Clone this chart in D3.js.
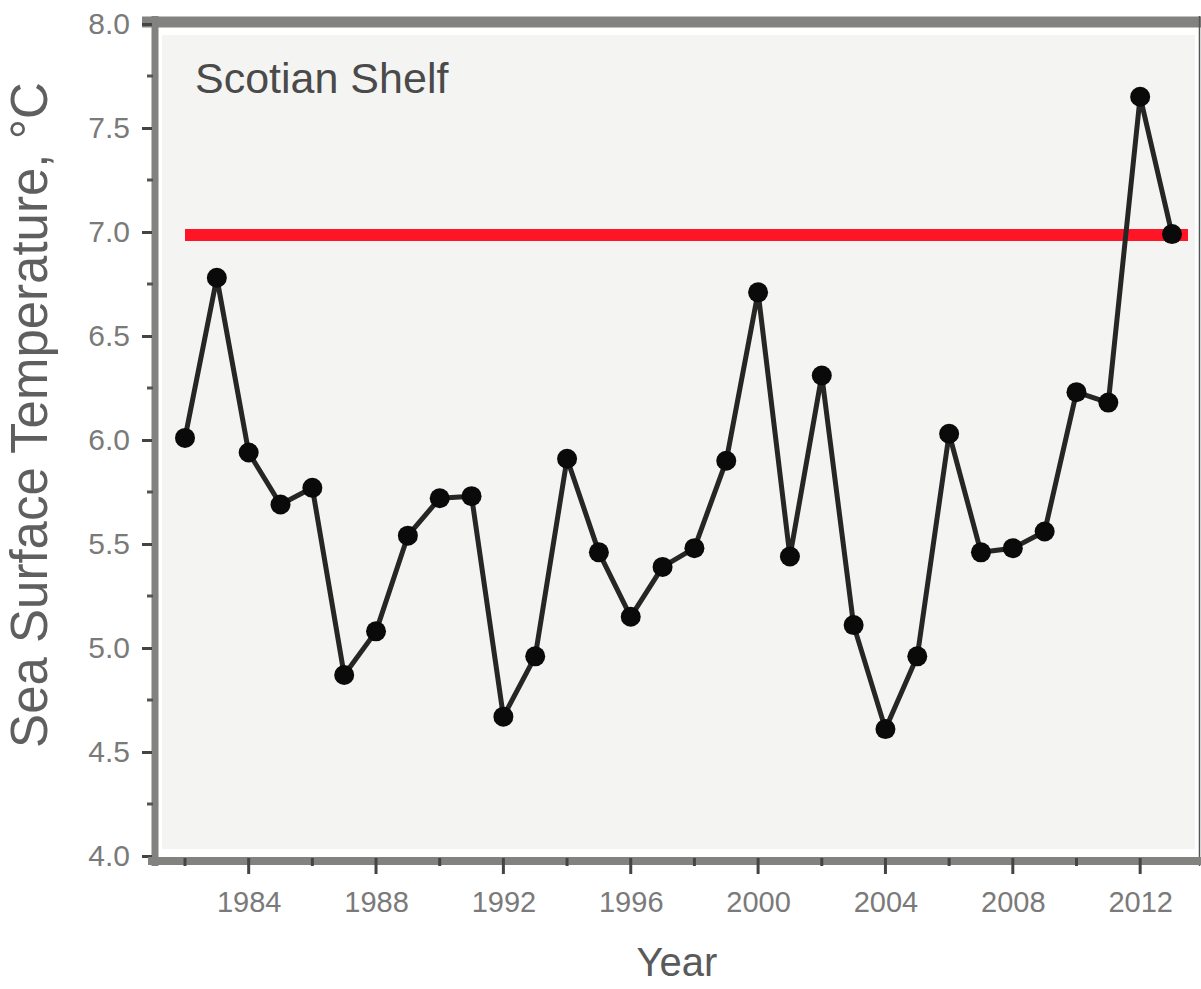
<!DOCTYPE html>
<html>
<head>
<meta charset="utf-8">
<script src="https://cdn.jsdelivr.net/npm/d3@7"></script>
<style>
  html, body { margin: 0; padding: 0; background: #ffffff; }
  svg { display: block; font-family: "Liberation Sans", Arial, sans-serif; }
</style>
</head>
<body>
<svg id="chart" width="1201" height="989"></svg>
<script>
// Annual mean sea surface temperature, Scotian Shelf
const years = d3.range(1982, 2014);
const sst = [6.01, 6.78, 5.94, 5.69, 5.77, 4.87, 5.08, 5.54, 5.72, 5.73,
             4.67, 4.96, 5.91, 5.46, 5.15, 5.39, 5.48, 5.90, 6.71, 5.44,
             6.31, 5.11, 4.61, 4.96, 6.03, 5.46, 5.48, 5.56, 6.23, 6.18,
             7.65, 6.99];
const threshold = 7.0;
const yTicks = [4.0, 4.5, 5.0, 5.5, 6.0, 6.5, 7.0, 7.5, 8.0];
const yMinorTicks = [4.25, 4.75, 5.25, 5.75, 6.25, 6.75, 7.25, 7.75];
const xTicks = d3.range(1982, 2013, 2);
const xLabels = [1984, 1988, 1992, 1996, 2000, 2004, 2008, 2012];
const regionName = "Scotian Shelf";

const svg = d3.select("#chart");

const x = d3.scaleLinear().domain([1982, 2013]).range([185, 1172]);
const y = d3.scaleLinear().domain([4, 8]).range([856, 24]);

const axisGrey = "#828280";
const labelGrey = "#7a7a7a";

// plot panel background
svg.append("rect")
  .attr("x", 162).attr("y", 35)
  .attr("width", 1033).attr("height", 814)
  .attr("fill", "#f4f5f2");

// top frame line
svg.append("line")
  .attr("x1", 142).attr("x2", 1201)
  .attr("y1", y(8) - 2).attr("y2", y(8) - 2)
  .attr("stroke", axisGrey).attr("stroke-width", 11);

// right frame edge
svg.append("line")
  .attr("x1", 1199.5).attr("x2", 1199.5)
  .attr("y1", 16).attr("y2", 866)
  .attr("stroke", "#555").attr("stroke-width", 1.5);

// y axis
const yAxis = d3.axisLeft(y)
  .tickValues(yTicks)
  .tickFormat(d3.format(".1f"))
  .tickSize(10)
  .tickPadding(12);
const gy = svg.append("g").attr("transform", "translate(152,0)").call(yAxis);
gy.select(".domain").remove();
gy.selectAll(".tick line").attr("stroke", "#444").attr("stroke-width", 3);
gy.selectAll(".tick text")
  .attr("fill", labelGrey).style("font-size", "30px")
  .style("font-family", "'Liberation Sans', Arial, sans-serif");
svg.append("line")
  .attr("x1", 155).attr("x2", 155)
  .attr("y1", 16).attr("y2", 866)
  .attr("stroke", axisGrey).attr("stroke-width", 7);
gy.raise();

// minor y ticks
svg.append("g").selectAll("line").data(yMinorTicks).join("line")
  .attr("x1", 147).attr("x2", 153)
  .attr("y1", d => y(d)).attr("y2", d => y(d))
  .attr("stroke", "#555").attr("stroke-width", 3);

// x axis
const xAxis = d3.axisBottom(x)
  .tickValues(xTicks)
  .tickFormat(d => xLabels.includes(d) ? String(d) : "")
  .tickSize(0)
  .tickPadding(30);
const gx = svg.append("g").attr("transform", "translate(0,861)").call(xAxis);
gx.select(".domain").remove();
gx.selectAll(".tick text")
  .attr("fill", labelGrey).style("font-size", "29px")
  .style("font-family", "'Liberation Sans', Arial, sans-serif");
svg.append("line")
  .attr("x1", 148).attr("x2", 1201)
  .attr("y1", 861).attr("y2", 861)
  .attr("stroke", axisGrey).attr("stroke-width", 8);
svg.append("g").selectAll("line").data(xTicks).join("line")
  .attr("x1", d => x(d)).attr("x2", d => x(d))
  .attr("y1", 858)
  .attr("y2", d => xLabels.includes(d) ? 874 : 866)
  .attr("stroke", "#444").attr("stroke-width", 3);

// reference threshold line
svg.append("line")
  .attr("x1", x(1982)).attr("x2", x(2013) + 16)
  .attr("y1", y(threshold) + 3).attr("y2", y(threshold) + 3)
  .attr("stroke", "#ff1526").attr("stroke-width", 12);

// temperature series
const data = years.map((yr, i) => ({ year: yr, value: sst[i] }));
svg.append("path")
  .datum(data)
  .attr("fill", "none")
  .attr("stroke", "#262626")
  .attr("stroke-width", 5)
  .attr("stroke-linejoin", "round")
  .attr("d", d3.line().x(d => x(d.year)).y(d => y(d.value)));

svg.append("g").selectAll("circle").data(data).join("circle")
  .attr("cx", d => x(d.year))
  .attr("cy", d => y(d.value))
  .attr("r", 10)
  .attr("fill", "#0a0a0a");

// region label
svg.append("text")
  .attr("x", 195).attr("y", 93)
  .attr("fill", "#4a4a4a")
  .style("font-size", "43px")
  .text(regionName);

// axis titles
svg.append("text")
  .attr("x", 677).attr("y", 976)
  .attr("text-anchor", "middle")
  .attr("fill", "#5a5a5a")
  .style("font-size", "40px")
  .text("Year");

svg.append("text")
  .attr("transform", "translate(47,415) rotate(-90)")
  .attr("text-anchor", "middle")
  .attr("fill", "#5f5f5f")
  .style("font-size", "51px")
  .text("Sea Surface Temperature, °C");
</script>
</body>
</html>
